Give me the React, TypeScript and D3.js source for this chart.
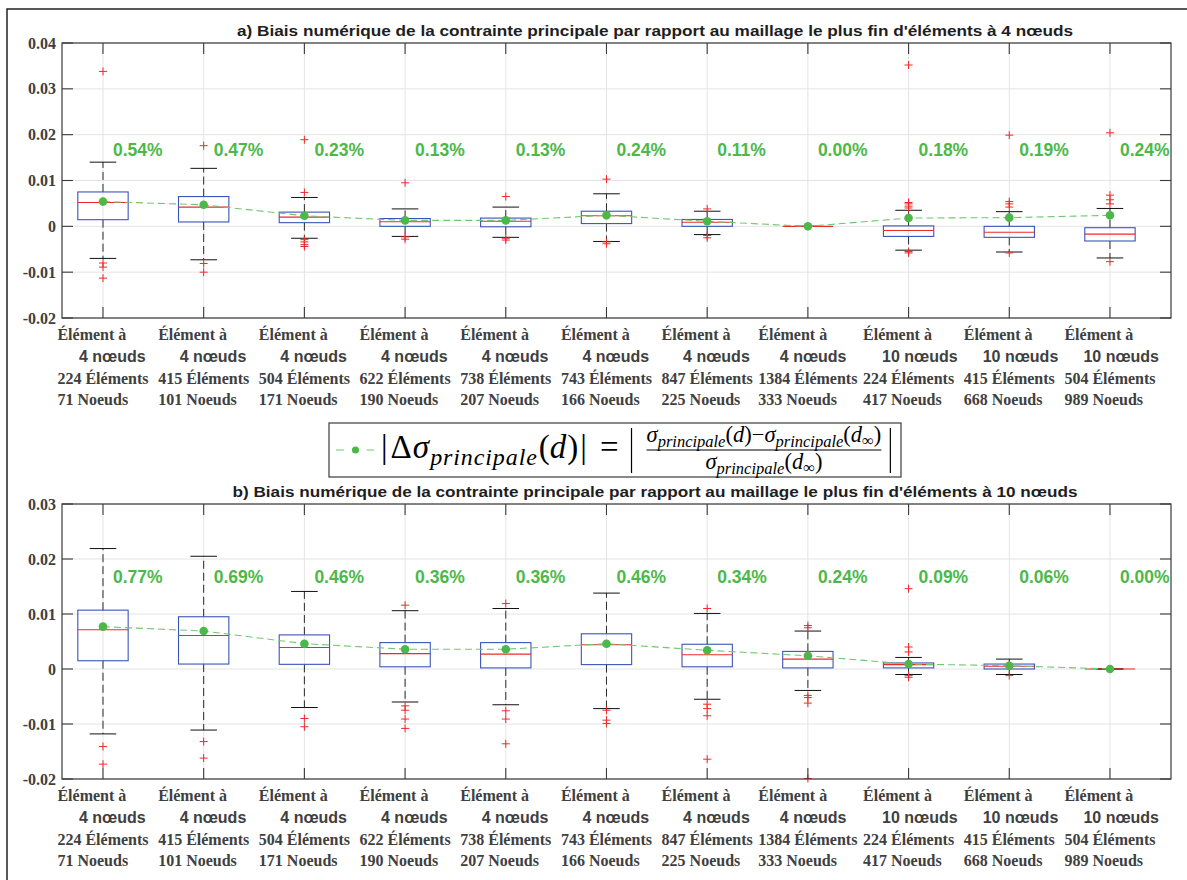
import React, { useEffect, useRef } from "react";
import * as d3 from "d3";

// ---------------- DATA ----------------
const nodeTypes = [4, 4, 4, 4, 4, 4, 4, 4, 10, 10, 10];
const elementCounts = [224, 415, 504, 622, 738, 743, 847, 1384, 224, 415, 504];
const nodeCounts = [71, 101, 171, 190, 207, 166, 225, 333, 417, 668, 989];

const titleA =
  "a) Biais numérique de la contrainte principale par rapport au maillage le plus fin d'éléments à 4 nœuds";
const titleB =
  "b) Biais numérique de la contrainte principale par rapport au maillage le plus fin d'éléments à 10 nœuds";

const yTicksA = [-0.02, -0.01, 0, 0.01, 0.02, 0.03, 0.04];
const yTickLabelsA = ["-0.02", "-0.01", "0", "0.01", "0.02", "0.03", "0.04"];
const yTicksB = [-0.02, -0.01, 0, 0.01, 0.02, 0.03];
const yTickLabelsB = ["-0.02", "-0.01", "0", "0.01", "0.02", "0.03"];

// Panel a
const aLower = [-0.007, -0.0073, -0.0026, -0.0022, -0.0024, -0.0033, -0.0018, 0, -0.0052, -0.0056, -0.0069];
const aQ1 = [0.00145, 0.00095, 0.0008, 0.0, -0.0001, 0.0006, 0.0, 0, -0.0022, -0.0024, -0.0032];
const aMedian = [0.0052, 0.0042, 0.002, 0.001, 0.0011, 0.0023, 0.0009, 0, -0.0009, -0.0013, -0.0017];
const aQ3 = [0.0075, 0.0065, 0.0031, 0.0017, 0.0018, 0.0033, 0.0015, 0, 0.0001, 0.0, -0.0003];
const aUpper = [0.014, 0.01265, 0.0063, 0.0038, 0.0042, 0.0071, 0.0033, 0, 0.0035, 0.0032, 0.0039];
const aOutliers = [
  [0.0338, -0.008, -0.0089, -0.0113],
  [0.0176, -0.0081, -0.01],
  [0.0189, 0.0074, -0.0029, -0.0034, -0.004, -0.0044],
  [0.0095, -0.0023, -0.0028],
  [0.0065, -0.0026, -0.003],
  [0.0103, -0.0034, -0.0038],
  [0.0038, -0.002, -0.0025],
  [],
  [0.0352, 0.0052, 0.0049, 0.0044, 0.004, -0.0055, -0.0058],
  [0.0199, 0.0054, 0.0049, 0.0042, -0.0058],
  [0.0204, 0.0068, 0.0058, 0.0049, -0.0077],
];
const aMeanPercent = [0.54, 0.47, 0.23, 0.13, 0.13, 0.24, 0.11, 0.0, 0.18, 0.19, 0.24];

// Panel b
const bLower = [-0.0118, -0.0111, -0.007, -0.006, -0.0065, -0.0072, -0.0055, -0.0039, -0.001, -0.001, 0];
const bQ1 = [0.0015, 0.0009, 0.00085, 0.0004, 0.0002, 0.0008, 0.0004, 0.0002, 0.0002, 0.0, 0];
const bMedian = [0.00715, 0.0061, 0.0039, 0.0028, 0.0027, 0.0044, 0.0026, 0.0018, 0.0008, 0.0005, 0];
const bQ3 = [0.0107, 0.0095, 0.0062, 0.0048, 0.0048, 0.0064, 0.0045, 0.0032, 0.0011, 0.0009, 0];
const bUpper = [0.0219, 0.0205, 0.0141, 0.0106, 0.011, 0.0138, 0.0101, 0.0069, 0.0021, 0.0018, 0];
const bOutliers = [
  [-0.0141, -0.0173],
  [-0.0132, -0.0162],
  [-0.009, -0.0105],
  [0.0116, -0.0067, -0.0075, -0.0091, -0.0108],
  [0.0119, -0.0076, -0.0091, -0.0136],
  [-0.0075, -0.0093, -0.0099],
  [0.011, -0.0064, -0.0072, -0.0085, -0.0164],
  [0.0079, 0.0075, -0.0048, -0.0052, -0.0062, -0.0199],
  [0.0146, 0.004, 0.0031, -0.0012, -0.0015],
  [-0.0012],
  [],
];
const bMeanPercent = [0.77, 0.69, 0.46, 0.36, 0.36, 0.46, 0.34, 0.24, 0.09, 0.06, 0.0];

// ---------------- STYLE / LAYOUT ----------------
const W = 1187;
const H = 880;
const PLOT_LEFT = 62;
const PLOT_RIGHT = 1171;
const X_DOMAIN = [0.593, 11.606];
const TITLE_CX = 655;
const LABEL_LEVEL = 0.0167;
const SERIF = "'Liberation Serif', 'Times New Roman', serif";
const SANS = "'Liberation Sans', Arial, sans-serif";
const GREEN = "#4db84a";
const GREEN_LINE = "#72c672";
const BLUE = "#3a55b8";
const RED = "#f02828";
const AXIS = "#3a3a3a";
const TICKTXT = "#404040";
const GRID = "#e4e4e4";

type Panel = {
  title: string;
  titleWidth: number;
  top: number;
  bottom: number;
  yDomain: [number, number];
  yTicks: number[];
  yTickLabels: string[];
  lower: number[];
  q1: number[];
  median: number[];
  q3: number[];
  upper: number[];
  outliers: number[][];
  meanPercent: number[];
};

const panels: Panel[] = [
  {
    title: titleA,
    titleWidth: 836,
    top: 43,
    bottom: 318,
    yDomain: [-0.02, 0.04],
    yTicks: yTicksA,
    yTickLabels: yTickLabelsA,
    lower: aLower,
    q1: aQ1,
    median: aMedian,
    q3: aQ3,
    upper: aUpper,
    outliers: aOutliers,
    meanPercent: aMeanPercent,
  },
  {
    title: titleB,
    titleWidth: 845,
    top: 504,
    bottom: 779,
    yDomain: [-0.02, 0.03],
    yTicks: yTicksB,
    yTickLabels: yTickLabelsB,
    lower: bLower,
    q1: bQ1,
    median: bMedian,
    q3: bQ3,
    upper: bUpper,
    outliers: bOutliers,
    meanPercent: bMeanPercent,
  },
];

function drawPanel(svg: any, p: Panel) {
  const cats = nodeTypes.map((_, i) => i + 1);
  const x = d3.scaleLinear().domain(X_DOMAIN).range([PLOT_LEFT, PLOT_RIGHT]);
  const y = d3.scaleLinear().domain(p.yDomain).range([p.bottom, p.top]);
  const step = x(2) - x(1);
  const boxHalf = step * 0.25;
  const capHalf = step * 0.132;
  const g = svg.append("g");

  // grid
  g.selectAll(".vgrid")
    .data(cats)
    .join("line")
    .attr("x1", (c: number) => x(c))
    .attr("x2", (c: number) => x(c))
    .attr("y1", p.top)
    .attr("y2", p.bottom)
    .attr("stroke", GRID)
    .attr("stroke-width", 1);
  g.selectAll(".hgrid")
    .data(p.yTicks)
    .join("line")
    .attr("x1", PLOT_LEFT)
    .attr("x2", PLOT_RIGHT)
    .attr("y1", (v: number) => y(v))
    .attr("y2", (v: number) => y(v))
    .attr("stroke", GRID)
    .attr("stroke-width", 1);

  // title
  g.append("text")
    .attr("x", TITLE_CX)
    .attr("y", p.top - 7)
    .attr("text-anchor", "middle")
    .attr("textLength", p.titleWidth)
    .attr("lengthAdjust", "spacingAndGlyphs")
    .style("font-family", SANS)
    .style("font-weight", "bold")
    .style("font-size", "15.5px")
    .attr("fill", "#1e1e1e")
    .text(p.title);

  // boxplots
  cats.forEach((c, i) => {
    const cx = x(c);
    const bg = g.append("g");
    // whiskers
    bg.append("line")
      .attr("x1", cx).attr("x2", cx)
      .attr("y1", y(p.q3[i])).attr("y2", y(p.upper[i]))
      .attr("stroke", "#2a2a2a").attr("stroke-width", 1).attr("stroke-dasharray", "8,4");
    bg.append("line")
      .attr("x1", cx).attr("x2", cx)
      .attr("y1", y(p.q1[i])).attr("y2", y(p.lower[i]))
      .attr("stroke", "#2a2a2a").attr("stroke-width", 1).attr("stroke-dasharray", "8,4");
    // caps
    [p.upper[i], p.lower[i]].forEach((v) => {
      bg.append("line")
        .attr("x1", cx - capHalf).attr("x2", cx + capHalf)
        .attr("y1", y(v)).attr("y2", y(v))
        .attr("stroke", "#111").attr("stroke-width", 1);
    });
    // box
    bg.append("rect")
      .attr("x", cx - boxHalf)
      .attr("y", y(p.q3[i]))
      .attr("width", boxHalf * 2)
      .attr("height", Math.max(0, y(p.q1[i]) - y(p.q3[i])))
      .attr("fill", "none")
      .attr("stroke", BLUE)
      .attr("stroke-width", 1.1);
    // median
    bg.append("line")
      .attr("x1", cx - boxHalf).attr("x2", cx + boxHalf)
      .attr("y1", y(p.median[i])).attr("y2", y(p.median[i]))
      .attr("stroke", RED).attr("stroke-width", 1.1);
    // outliers
    bg.selectAll(".out")
      .data(p.outliers[i])
      .join("path")
      .attr("d", (v: number) => {
        const yy = y(v);
        return `M${cx - 4},${yy}H${cx + 4}M${cx},${yy - 4}V${yy + 4}`;
      })
      .attr("stroke", RED)
      .attr("stroke-width", 1)
      .attr("fill", "none");
  });

  // mean line + dots
  const line = d3
    .line<number>()
    .x((_, i) => x(i + 1))
    .y((v) => y(v / 100));
  g.append("path")
    .attr("d", line(p.meanPercent))
    .attr("fill", "none")
    .attr("stroke", GREEN_LINE)
    .attr("stroke-width", 1.1)
    .attr("stroke-dasharray", "7,4");
  g.selectAll(".dot")
    .data(p.meanPercent)
    .join("circle")
    .attr("cx", (_: number, i: number) => x(i + 1))
    .attr("cy", (v: number) => y(v / 100))
    .attr("r", 4.3)
    .attr("fill", GREEN);

  // percent labels
  g.selectAll(".pct")
    .data(p.meanPercent)
    .join("text")
    .attr("x", (_: number, i: number) => x(i + 1) + 10)
    .attr("y", y(LABEL_LEVEL) + 6)
    .style("font-family", SANS)
    .style("font-weight", "bold")
    .style("font-size", "17.5px")
    .attr("fill", GREEN)
    .text((v: number) => v.toFixed(2) + "%");

  // axes frame
  g.append("rect")
    .attr("x", PLOT_LEFT)
    .attr("y", p.top)
    .attr("width", PLOT_RIGHT - PLOT_LEFT)
    .attr("height", p.bottom - p.top)
    .attr("fill", "none")
    .attr("stroke", AXIS)
    .attr("stroke-width", 1.2);

  const TL = 11;
  p.yTicks.forEach((v) => {
    g.append("line").attr("x1", PLOT_LEFT).attr("x2", PLOT_LEFT + TL).attr("y1", y(v)).attr("y2", y(v)).attr("stroke", AXIS).attr("stroke-width", 1.1);
    g.append("line").attr("x1", PLOT_RIGHT - TL).attr("x2", PLOT_RIGHT).attr("y1", y(v)).attr("y2", y(v)).attr("stroke", AXIS).attr("stroke-width", 1.1);
  });
  cats.forEach((c) => {
    g.append("line").attr("x1", x(c)).attr("x2", x(c)).attr("y1", p.bottom).attr("y2", p.bottom - TL).attr("stroke", AXIS).attr("stroke-width", 1.1);
    g.append("line").attr("x1", x(c)).attr("x2", x(c)).attr("y1", p.top).attr("y2", p.top + TL).attr("stroke", AXIS).attr("stroke-width", 1.1);
  });

  // y tick labels
  g.selectAll(".ytl")
    .data(p.yTicks)
    .join("text")
    .attr("x", PLOT_LEFT - 6)
    .attr("y", (v: number) => y(v) + 5.5)
    .attr("text-anchor", "end")
    .style("font-family", SERIF)
    .style("font-weight", "bold")
    .style("font-size", "16px")
    .attr("fill", TICKTXT)
    .text((_: number, i: number) => p.yTickLabels[i]);

  // x tick labels (4 lines, block centred on tick, lines left aligned)
  cats.forEach((c, i) => {
    const lg = g.append("g");
    const serifLines = [
      { t: "Élément à", row: 0 },
      { t: `${elementCounts[i]} Éléments`, row: 2 },
      { t: `${nodeCounts[i]} Noeuds`, row: 3 },
    ];
    const rowsY = [21.5, 43.5, 65.5, 86.5].map((d) => p.bottom + d);
    const nodes = serifLines.map((l) =>
      lg.append("text")
        .attr("y", rowsY[l.row])
        .style("font-family", SERIF)
        .style("font-weight", "bold")
        .style("font-size", "16px")
        .attr("fill", TICKTXT)
        .text(l.t)
    );
    const widths = nodes.map((n: any) => (n.node() as SVGTextElement).getComputedTextLength());
    const left = x(c) - (d3.max(widths) as number) / 2;
    nodes.forEach((n: any) => n.attr("x", left));
    lg.append("text")
      .attr("x", left + (nodeTypes[i] === 4 ? 21.5 : 19))
      .attr("y", rowsY[1])
      .style("font-family", SANS)
      .style("font-weight", "bold")
      .style("font-size", "16px")
      .attr("fill", TICKTXT)
      .text(`${nodeTypes[i]} nœuds`);
  });
}

type Piece = { t: string; it?: boolean; size: number; dy?: number; gap?: number; ls?: number };

function run(g: any, x0: number, base: number, pieces: Piece[]): number {
  let cx = x0;
  pieces.forEach((p) => {
    const t = g
      .append("text")
      .attr("x", cx)
      .attr("y", base + (p.dy || 0))
      .style("font-family", SERIF)
      .style("font-style", p.it ? "italic" : "normal")
      .style("font-size", p.size + "px")
      .style("letter-spacing", (p.ls || 0) + "px")
      .attr("fill", "#000")
      .text(p.t);
    cx += (t.node() as SVGTextElement).getComputedTextLength() + (p.gap || 0);
  });
  return cx;
}

function drawLegend(svg: any) {
  const LX = 329, LY = 423, LW = 572, LH = 54;
  const g = svg.append("g");
  g.append("rect")
    .attr("x", LX).attr("y", LY).attr("width", LW).attr("height", LH)
    .attr("fill", "#fff").attr("stroke", "#4a4a4a").attr("stroke-width", 1.3);
  const midY = LY + LH / 2;
  g.append("line")
    .attr("x1", LX + 7).attr("x2", LX + 45).attr("y1", midY).attr("y2", midY)
    .attr("stroke", GREEN_LINE).attr("stroke-width", 1.2).attr("stroke-dasharray", "8,22.5");
  g.append("circle").attr("cx", LX + 26.5).attr("cy", midY).attr("r", 3.6).attr("fill", GREEN);

  const BIG = 33, SUB = 24, FS = 22.5, FSUB = 16.5;
  const base = LY + 35;
  let cx = run(g, LX + 52, base, [
    { t: "|", size: BIG, gap: 3 },
    { t: "Δ", size: BIG, gap: 1 },
    { t: "σ", size: BIG, it: true, gap: 1 },
    { t: "principale", size: SUB, it: true, dy: 7, gap: 1, ls: 0.9 },
    { t: "(", size: BIG },
    { t: "d", size: BIG, it: true, gap: 1 },
    { t: ")", size: BIG, gap: 2 },
    { t: "|", size: BIG, gap: 13 },
    { t: "=", size: BIG, gap: 12 },
  ]);
  // big bar left
  g.append("line").attr("x1", cx + 1).attr("x2", cx + 1).attr("y1", LY + 5).attr("y2", LY + 50).attr("stroke", "#000").attr("stroke-width", 1.2);
  const fracL = cx + 16;
  const numBase = LY + 19;
  const numEnd = run(g, fracL, numBase, [
    { t: "σ", size: FS, it: true },
    { t: "principale", size: FSUB, it: true, dy: 5 },
    { t: "(", size: FS },
    { t: "d", size: FS, it: true },
    { t: ")", size: FS },
    { t: "−", size: FS },
    { t: "σ", size: FS, it: true },
    { t: "principale", size: FSUB, it: true, dy: 5 },
    { t: "(", size: FS },
    { t: "d", size: FS, it: true },
    { t: "∞", size: FSUB, dy: 4 },
    { t: ")", size: FS },
  ]);
  g.append("line").attr("x1", fracL).attr("x2", numEnd).attr("y1", midY).attr("y2", midY).attr("stroke", "#000").attr("stroke-width", 1.2);
  const dg = g.append("g");
  const denW = run(dg, 0, LY + 46, [
    { t: "σ", size: FS, it: true },
    { t: "principale", size: FSUB, it: true, dy: 5 },
    { t: "(", size: FS },
    { t: "d", size: FS, it: true },
    { t: "∞", size: FSUB, dy: 4 },
    { t: ")", size: FS },
  ]);
  dg.attr("transform", `translate(${fracL + (numEnd - fracL - denW) / 2},0)`);
  g.append("line").attr("x1", numEnd + 9).attr("x2", numEnd + 9).attr("y1", LY + 5).attr("y2", LY + 50).attr("stroke", "#000").attr("stroke-width", 1.2);
}

export default function App() {
  const ref = useRef<SVGSVGElement>(null);
  useEffect(() => {
    const svg = d3.select(ref.current);
    svg.selectAll("*").remove();
    svg.append("rect").attr("x", 0).attr("y", 0).attr("width", W).attr("height", H).attr("fill", "#fff");
    panels.forEach((p) => drawPanel(svg, p));
    drawLegend(svg);
    svg.append("rect")
      .attr("x", 7).attr("y", 9).attr("width", W + 20).attr("height", H + 20)
      .attr("fill", "none").attr("stroke", "#222").attr("stroke-width", 1.5);
  }, []);
  return (
    <svg
      ref={ref}
      width={W}
      height={H}
      style={{ position: "absolute", left: 0, top: 0, display: "block" }}
    />
  );
}
